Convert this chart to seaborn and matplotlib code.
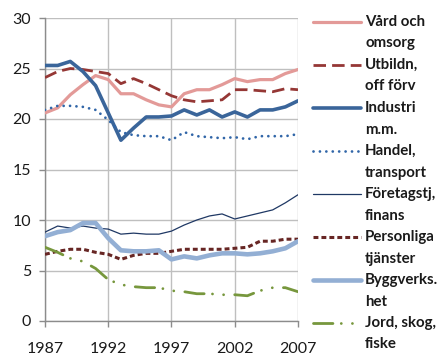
import matplotlib
matplotlib.use("Agg")
import matplotlib.pyplot as plt
from matplotlib.lines import Line2D
import seaborn as sns

years = list(range(1987, 2008))

vard = [20.6, 21.1, 22.4, 23.4, 24.3, 23.9, 22.5, 22.5, 21.9, 21.4, 21.2,
        22.5, 22.9, 22.9, 23.4, 24.0, 23.7, 23.9, 23.9, 24.5, 24.9]
utbildn = [24.1, 24.7, 25.0, 24.9, 24.7, 24.5, 23.5, 24.0, 23.5, 22.9, 22.3,
           21.9, 21.7, 21.8, 21.9, 22.9, 22.9, 22.8, 22.7, 23.0, 22.9]
industri = [25.3, 25.3, 25.7, 24.7, 23.3, 20.6, 17.9, 19.1, 20.2, 20.2, 20.3,
            20.9, 20.4, 20.9, 20.2, 20.7, 20.2, 20.9, 20.9, 21.2, 21.8]
handel = [20.9, 21.3, 21.3, 21.2, 20.9, 19.9, 18.7, 18.4, 18.3, 18.3, 17.9,
          18.7, 18.3, 18.2, 18.1, 18.2, 18.0, 18.3, 18.3, 18.3, 18.5]
foretag = [8.8, 9.4, 9.2, 9.4, 9.2, 9.1, 8.6, 8.7, 8.6, 8.6, 8.9,
           9.5, 10.0, 10.4, 10.6, 10.1, 10.4, 10.7, 11.0, 11.7, 12.5]
personliga = [6.6, 6.9, 7.1, 7.1, 6.8, 6.6, 6.1, 6.5, 6.7, 6.7, 6.9,
              7.1, 7.1, 7.1, 7.1, 7.2, 7.3, 7.9, 7.9, 8.1, 8.1]
bygg = [8.4, 8.8, 9.0, 9.7, 9.7, 8.2, 7.0, 6.9, 6.9, 7.0, 6.1,
        6.4, 6.2, 6.5, 6.7, 6.7, 6.6, 6.7, 6.9, 7.2, 7.9]
jord = [7.3, 6.8, 6.2, 5.9, 5.2, 4.1, 3.6, 3.4, 3.3, 3.3, 3.0,
        2.9, 2.7, 2.7, 2.6, 2.6, 2.5, 3.0, 3.3, 3.3, 2.9]

labels = ["Vård och\nomsorg", "Utbildn,\noff förv", "Industri\nm.m.",
          "Handel,\ntransport", "Företagstj,\nfinans", "Personliga\ntjänster",
          "Byggverks.\nhet", "Jord, skog,\nfiske"]
series = [vard, utbildn, industri, handel, foretag, personliga, bygg, jord]

styles = [
    dict(color="#E39A98", lw=2.3, dashes=None),
    dict(color="#953735", lw=2.0, dashes=(4.5, 2.2)),
    dict(color="#3A659A", lw=2.6, dashes=None),
    dict(color="#3166A8", lw=2.0, dashes=(0.01, 2.3), cap="round"),
    dict(color="#1F3864", lw=0.9, dashes=None),
    dict(color="#672624", lw=2.2, dashes=(1.6, 1.0)),
    dict(color="#93AFD4", lw=3.3, dashes=None),
    dict(color="#77973D", lw=2.0, dashes=(7, 3, 0.01, 4, 0.01, 4), cap="round"),
]

sns.set_theme(style="white")
plt.rcParams["font.family"] = ["Lato", "DejaVu Sans"]

fig = plt.figure(figsize=(4.42, 3.60), dpi=100)
ax = fig.add_axes([45 / 442, 39 / 360, 253 / 442, 303 / 360])

draw_order = [0, 1, 2, 3, 5, 6, 4, 7]
for i in draw_order:
    st = styles[i]
    sns.lineplot(x=years, y=series[i], ax=ax, color=st["color"],
                 linewidth=st["lw"], zorder=3 + i)
    line = ax.lines[-1]
    if st["dashes"] is not None:
        line.set_dashes(st["dashes"])
    line.set_dash_capstyle(st.get("cap", "butt"))
    line.set_solid_capstyle("round")

ax.set_xlim(1987, 2007)
ax.set_ylim(0, 30)
ax.set_xticks([1987, 1992, 1997, 2002, 2007])
ax.set_yticks(range(0, 31, 5))
ax.grid(True, color="#BFBFBF", linewidth=1.0)
ax.set_axisbelow(True)
for side in ["top", "right"]:
    ax.spines[side].set_visible(False)
for side in ["left", "bottom"]:
    ax.spines[side].set_color("#8C8C8C")
    ax.spines[side].set_linewidth(1.0)
ax.tick_params(axis="both", which="both", length=4, width=1.0, color="#8C8C8C",
               labelsize=11.5, labelcolor="#1A1A1A", direction="out")
ax.tick_params(axis="x", pad=11, bottom=True)
ax.tick_params(axis="y", pad=6, left=True)

# legend drawn at the right of the plot
y0 = 22
step = 43.0
for k, lab in enumerate(labels):
    st = styles[k]
    yy = 1 - (y0 + k * step) / 360
    h = Line2D([313 / 442, 361 / 442], [yy, yy], transform=fig.transFigure,
               color=st["color"], linewidth=st["lw"])
    if st["dashes"] is not None:
        h.set_dashes(st["dashes"])
        h.set_dash_capstyle(st.get("cap", "butt"))
    fig.add_artist(h)
    first, second = lab.split("\n")
    fig.text(365 / 442, yy, first, fontsize=10.8, fontweight="bold",
             color="#1A1A1A", va="center", ha="left")
    fig.text(365 / 442, yy - 21.5 / 360, second, fontsize=10.8,
             fontweight="bold", color="#1A1A1A", va="center", ha="left")

fig.savefig("out.png", dpi=100)
